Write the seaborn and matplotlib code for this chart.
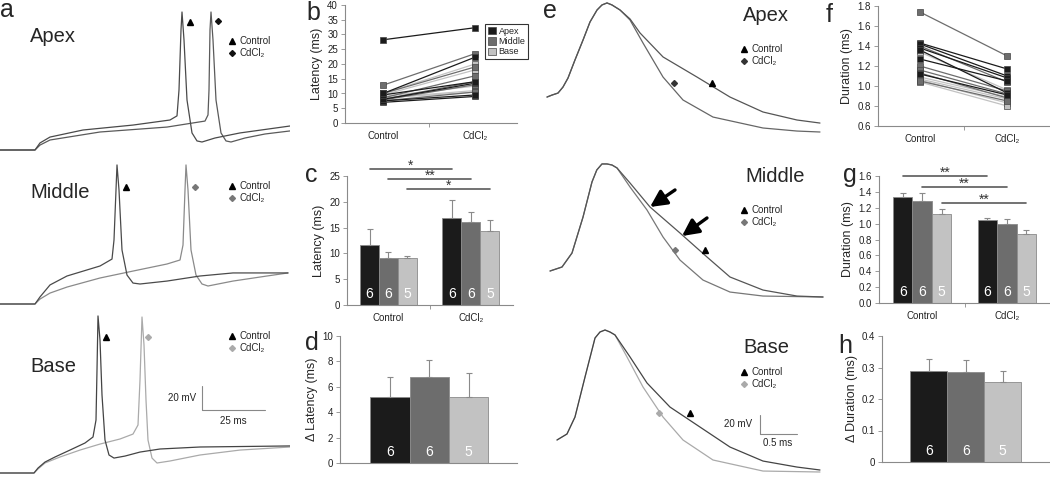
import pandas as pd
import seaborn as sns
import matplotlib.pyplot as plt
from matplotlib.lines import Line2D
from matplotlib.patches import Patch

# ---------------- datos ----------------
regions = ['Apex', 'Middle', 'Base']
conds = ['Control', 'CdCl₂']
region_colors = {'Apex': '#1b1b1b', 'Middle': '#6d6d6d', 'Base': '#c2c2c2'}
n_cells = [6, 6, 5]

# latencia por celula (ms): control -> CdCl2
lat_apex_ctrl = [28.2, 7.0, 7.5, 8.0, 9.5, 10.0]
lat_apex_cd = [32.3, 9.0, 9.5, 13.5, 14.0, 22.3]
lat_mid_ctrl = [12.8, 10.0, 8.5, 8.0, 7.8, 7.5]
lat_mid_cd = [23.5, 19.0, 16.0, 14.0, 13.0, 10.5]
lat_base_ctrl = [10.0, 9.5, 9.0, 8.5, 8.5]
lat_base_cd = [20.0, 18.0, 12.5, 11.0, 10.5]

# duracion por celula (ms)
dur_apex_ctrl = [1.43, 1.42, 1.38, 1.36, 1.27, 1.12]
dur_apex_cd = [1.17, 1.10, 1.08, 0.93, 1.05, 0.91]
dur_mid_ctrl = [1.74, 1.40, 1.20, 1.16, 1.13, 1.05]
dur_mid_cd = [1.30, 1.04, 0.95, 0.92, 0.88, 0.85]
dur_base_ctrl = [1.34, 1.09, 1.07, 1.06, 1.04]
dur_base_cd = [0.96, 0.89, 0.87, 0.83, 0.80]

# medias y error estandar
lat_ctrl_mean = [11.6, 9.1, 9.1]
lat_cd_mean = [16.8, 16.0, 14.4]
lat_ctrl_se = [3.2, 1.1, 0.3]
lat_cd_se = [3.6, 2.0, 2.0]
dlat_mean = [5.2, 6.8, 5.2]
dlat_se = [1.6, 1.3, 1.9]

dur_ctrl_mean = [1.33, 1.28, 1.12]
dur_cd_mean = [1.04, 0.99, 0.87]
dur_ctrl_se = [0.05, 0.10, 0.07]
dur_cd_se = [0.03, 0.07, 0.045]
ddur_mean = [0.29, 0.285, 0.255]
ddur_se = [0.037, 0.04, 0.033]

lat_sig_y = [26.4, 24.4, 22.5]
lat_sig_txt = ['*', '**', '*']
dur_sig_y = [1.60, 1.46, 1.26]
dur_sig_txt = ['**', '**', '**']

# trazos de potencial (ms, mV)
a_apex_ctrl_t = [0, 14, 16, 20, 33.2, 53.2, 68, 70.8, 71.6, 72.4, 72.8, 73.6, 74.8, 76.8, 78.8, 80.8, 86, 96, 116]
a_apex_ctrl_v = [-80, -80, -74, -69, -63, -58.8, -54.5, -51, -29, 22, 37.3, 13.5, -37.5, -65.5, -72.3, -73.2, -69.8, -65.5, -59.6]
a_apex_cd_t = [0, 14, 16, 20, 40, 66.8, 82, 83.2, 83.6, 84, 84.4, 85.2, 86.4, 88.4, 90.4, 92.4, 98, 106, 116]
a_apex_cd_v = [-80, -80, -75.8, -71.5, -64.7, -60.5, -55.4, -50.2, -29, 22, 37.3, 13.5, -37.5, -65.5, -72.3, -73.2, -69.8, -66.4, -63.8]
a_mid_ctrl_t = [0, 14, 16, 20, 26.8, 40, 44.8, 45.6, 46.4, 46.8, 47.6, 48.8, 50.8, 53.2, 56, 66.8, 80, 93.2, 115.2]
a_mid_ctrl_v = [-80, -80, -74, -63.8, -56.2, -47.7, -41.8, -25.6, 16.9, 38.2, 16.9, -34.1, -55.4, -62.2, -63, -60.5, -56.2, -53.6, -53.6]
a_mid_cd_t = [0, 14, 16, 20, 26.8, 40, 53.2, 66.8, 72, 73.2, 74, 74.4, 75.2, 76.4, 78.4, 80.8, 83.2, 93.2, 106.8, 115.2]
a_mid_cd_v = [-80, -80, -75.8, -70.7, -65.6, -57.9, -52, -46, -42.6, -29.9, 16.9, 38.2, 16.9, -34.1, -55.4, -63, -64.7, -60.5, -56.2, -53.6]
a_base_ctrl_t = [0, 13.6, 15.2, 18, 22, 28, 34, 37.2, 38.4, 38.8, 39.2, 40, 40.8, 42, 43.6, 45.6, 50, 56, 64, 80, 116]
a_base_ctrl_v = [-80, -80, -75.8, -70.7, -66.4, -60.5, -54.5, -49.4, -35, 7.6, 53.5, 33, -13.7, -52, -64.7, -67.3, -65.6, -62.2, -59.6, -57.9, -57]
a_base_cd_t = [0, 13.6, 15.2, 18, 24, 32, 40, 48, 53.2, 55.2, 56, 56.8, 57.6, 58.4, 59.2, 60.8, 62.8, 68, 80, 96, 116]
a_base_cd_v = [-80, -80, -76.6, -71.5, -66.4, -60.5, -55.4, -51.1, -46.9, -39.2, -1, 52.6, 28.8, -18, -52, -67.3, -71.5, -69.8, -64.7, -60.5, -57.9]

e_apex_ctrl_t = [0.027, 0.095, 0.176, 0.243, 0.311, 0.405, 0.514, 0.608, 0.703, 0.770, 0.838, 0.905, 1.014, 1.149, 1.284, 1.595, 2.054, 2.5, 2.946, 3.405, 3.716]
e_apex_ctrl_v = [-33.3, -31.2, -29.1, -22.8, -13.3, 5.6, 26.6, 45.5, 58.1, 63.4, 65.5, 63.4, 58.1, 48.7, 34.0, 8.8, -12.3, -33.3, -49.0, -57.4, -60.6]
e_apex_cd_t = [0.027, 0.095, 0.176, 0.243, 0.311, 0.405, 0.514, 0.608, 0.703, 0.770, 0.838, 0.905, 1.014, 1.149, 1.324, 1.595, 1.865, 2.27, 2.946, 3.405, 3.716]
e_apex_cd_v = [-33.3, -31.2, -29.1, -22.8, -13.3, 5.6, 26.6, 45.5, 58.1, 63.4, 65.5, 63.4, 58.1, 47.6, 23.5, -12.3, -36.4, -54.3, -65.8, -69.0, -70.0]
e_mid_ctrl_t = [0.068, 0.23, 0.365, 0.514, 0.635, 0.70, 0.77, 0.838, 0.905, 0.973, 1.149, 1.419, 1.824, 2.189, 2.5, 2.946, 3.405, 3.757]
e_mid_ctrl_v = [-42.7, -38.5, -23.8, 14.0, 50.8, 63.4, 69.7, 69.7, 68.6, 65.5, 49.7, 24.5, -2.8, -28.0, -49.0, -62.7, -69.0, -70.0]
e_mid_cd_t = [0.068, 0.23, 0.365, 0.514, 0.635, 0.70, 0.77, 0.838, 0.905, 0.973, 1.149, 1.378, 1.595, 1.824, 2.135, 2.5, 2.946, 3.757]
e_mid_cd_v = [-42.7, -38.5, -23.8, 14.0, 50.8, 63.4, 69.7, 69.7, 68.6, 65.5, 45.5, 21.4, -7.0, -31.2, -52.2, -64.8, -69.0, -70.0]
e_base_ctrl_t = [0.162, 0.297, 0.405, 0.541, 0.676, 0.743, 0.811, 0.878, 0.946, 1.149, 1.378, 1.689, 2.054, 2.5, 2.946, 3.405, 3.716]
e_base_ctrl_v = [-36.4, -30.1, -12.3, 29.8, 70.7, 77.0, 79.1, 77.0, 73.9, 50.8, 23.5, -1.8, -20.7, -43.8, -58.5, -64.8, -67.9]
e_base_cd_t = [0.162, 0.297, 0.405, 0.541, 0.676, 0.743, 0.811, 0.878, 0.946, 1.108, 1.324, 1.595, 1.865, 2.27, 2.946, 3.716]
e_base_cd_v = [-36.4, -30.1, -12.3, 29.8, 70.7, 77.0, 79.1, 77.0, 73.9, 50.8, 19.3, -12.3, -36.4, -57.4, -69.0, -70.0]

# marcadores sobre los trazos (t, v)
a_marks = [((76, 28.8), (87.2, 29.7)), ((50.4, 19.5), (78, 19.5)), ((42.4, 35.6), (59.2, 35.6))]
e_marks = [((2.257, -18.6), (1.743, -18.6)), ((2.162, -20.7), (1.757, -20.7)), ((1.959, -8.1), (1.541, -8.1))]

# ---------------- figura ----------------
sns.set_style('ticks')
plt.rcParams['font.family'] = ['Liberation Sans', 'DejaVu Sans']

W, H = 1050, 479
fig = plt.figure(figsize=(W / 100, H / 100), dpi=100)

def px_axes(left, top, right, bottom):
    return fig.add_axes([left / W, 1 - bottom / H, (right - left) / W, (bottom - top) / H])

def trace_axes(left, top, right, bottom, t0, px_ms, ref_px, v_ref, mv_px):
    ax = px_axes(left, top, right, bottom)
    ax.set_xlim(t0, t0 + (right - left) / px_ms)
    ax.set_ylim(v_ref - (bottom - ref_px) * mv_px, v_ref + (ref_px - top) * mv_px)
    ax.axis('off')
    ax.patch.set_alpha(0)
    return ax

def trace_legend(ax, x, y, cd_color):
    hs = [Line2D([], [], ls='none', marker='^', color='k', ms=4, label='Control'),
          Line2D([], [], ls='none', marker='D', color=cd_color, ms=3, label='CdCl₂')]
    ax.legend(handles=hs, loc='upper left', bbox_to_anchor=(x / W, 1 - y / H),
              bbox_transform=fig.transFigure, frameon=False, fontsize=7,
              handlelength=0.6, handletextpad=0.5, labelspacing=0.2,
              borderpad=0, borderaxespad=0)

def style_axes(ax):
    sns.despine(ax=ax)
    for s in ['left', 'bottom']:
        ax.spines[s].set_color('#8a8a8a')
        ax.spines[s].set_linewidth(0.8)
    ax.tick_params(axis='both', which='both', colors='#8a8a8a', labelcolor='#222',
                   labelsize=7, length=3, width=0.6, pad=2)
    ax.set_xlabel('')

def cat_xaxis(ax):
    ax.set_xticks([0, 1])
    ax.set_xticklabels(conds)
    ax.set_xticks([0.5], minor=True)
    ax.tick_params(axis='x', which='major', length=0, pad=6)

def sorted_bars(ax):
    return sorted(ax.patches, key=lambda p: p.get_x())

def add_errors_and_n(ax, se, ns):
    bars = sorted_bars(ax)
    xs = [p.get_x() + p.get_width() / 2 for p in bars]
    tops = [p.get_height() for p in bars]
    ax.errorbar(xs, tops, yerr=[[0] * len(se), se], fmt='none', ecolor='#8a8a8a',
                elinewidth=0.8, capsize=2, capthick=0.8)
    for x, n in zip(xs, ns):
        ax.annotate(str(n), (x, ax.get_ylim()[0]), xytext=(0, 3), textcoords='offset points',
                    ha='center', va='bottom', color='white', fontsize=10)
    return xs

def sig_lines(ax, xs, ys, txts):
    for i in range(3):
        x0, x1 = xs[i], xs[i + 3]
        ax.plot([x0, x1], [ys[i], ys[i]], color='#5a5a5a', lw=1.2, clip_on=False)
        ax.annotate(txts[i], ((x0 + x1) / 2, ys[i]), xytext=(0, -3), textcoords='offset points',
                    ha='center', va='bottom', fontsize=10, color='#333', annotation_clip=False)

def paired_df(groups):
    rows = []
    cid = 0
    for reg, (c_vals, d_vals) in groups.items():
        for c, d in zip(c_vals, d_vals):
            rows.append({'cell': cid, 'region': reg, 'pos': 0, 'value': c})
            rows.append({'cell': cid, 'region': reg, 'pos': 1, 'value': d})
            cid += 1
    return pd.DataFrame(rows)

def paired_plot(ax, df):
    sns.lineplot(data=df, x='pos', y='value', hue='region', units='cell', estimator=None,
                 hue_order=['Base', 'Middle', 'Apex'], palette=region_colors, marker='s',
                 markersize=4, markeredgecolor='#444', markeredgewidth=0.5, lw=0.9,
                 legend=False, ax=ax)

def group_bars(ax, ctrl, cd):
    df = pd.DataFrame({'cond': [conds[0]] * 3 + [conds[1]] * 3,
                       'region': regions * 2, 'value': ctrl + cd})
    sns.barplot(data=df, x='cond', y='value', hue='region', order=conds, hue_order=regions,
                palette=region_colors, width=0.69, errorbar=None, edgecolor='#8a8a8a',
                linewidth=0.6, legend=False, ax=ax)

def delta_bars(ax, vals):
    sns.barplot(x=regions, y=vals, hue=regions, palette=region_colors, width=1.0,
                errorbar=None, edgecolor='#8a8a8a', linewidth=0.6, legend=False, ax=ax)

# ---- panel a: trazos largos ----
a_rows = [(0, 160, 150), (150, 314, 304), (310, 479, 473)]
a_traces = [(a_apex_ctrl_t, a_apex_ctrl_v, a_apex_cd_t, a_apex_cd_v, '#4a4a4a', '#5a5a5a', '#111'),
            (a_mid_ctrl_t, a_mid_ctrl_v, a_mid_cd_t, a_mid_cd_v, '#4a4a4a', '#8a8a8a', '#777'),
            (a_base_ctrl_t, a_base_ctrl_v, a_base_cd_t, a_base_cd_v, '#444', '#aaaaaa', '#aaa')]
a_axes = []
for (top, bot, ref), (ct, cv, dt, dv, cc, dc, mc), mk in zip(a_rows, a_traces, a_marks):
    ax = trace_axes(0, top, 290, bot, 0, 2.5, ref, -80, 0.85)
    sns.lineplot(x=dt, y=dv, sort=False, estimator=None, color=dc, lw=0.9, ax=ax)
    sns.lineplot(x=ct, y=cv, sort=False, estimator=None, color=cc, lw=0.9, ax=ax)
    ax.plot(*mk[0], marker='^', color='k', ms=4)
    ax.plot(*mk[1], marker='D', color=mc, ms=3)
    a_axes.append(ax)
for ax, y, mc in zip(a_axes, [36, 181, 331], ['#111', '#777', '#aaa']):
    trace_legend(ax, 229, y, mc)

ax = a_axes[2]
ax.plot([80.8, 80.8, 105.8], [-6.4, -26.4, -26.4], color='#888', lw=0.8)
ax.text(78.4, -16.4, '20 mV', ha='right', va='center', fontsize=7, color='#222')
ax.text(93.3, -35.7, '25 ms', ha='center', va='center', fontsize=7, color='#222')

# ---- panel e: potenciales de accion ----
e_rows = [(0, 150, 132), (150, 310, 297), (310, 479, 472)]
e_traces = [(e_apex_ctrl_t, e_apex_ctrl_v, e_apex_cd_t, e_apex_cd_v, '#555', '#666', '#333'),
            (e_mid_ctrl_t, e_mid_ctrl_v, e_mid_cd_t, e_mid_cd_v, '#555', '#777', '#777'),
            (e_base_ctrl_t, e_base_ctrl_v, e_base_cd_t, e_base_cd_v, '#444', '#aaaaaa', '#aaa')]
e_axes = []
for (top, bot, ref), (ct, cv, dt, dv, cc, dc, mc), mk in zip(e_rows, e_traces, e_marks):
    ax = trace_axes(540, top, 830, bot, -5 / 74, 74, ref, -70, 1.05)
    sns.lineplot(x=dt, y=dv, sort=False, estimator=None, color=dc, lw=0.9, ax=ax)
    sns.lineplot(x=ct, y=cv, sort=False, estimator=None, color=cc, lw=0.9, ax=ax)
    ax.plot(*mk[0], marker='^', color='k', ms=4)
    ax.plot(*mk[1], marker='D', color=mc, ms=3)
    e_axes.append(ax)
for ax, y, mc in zip(e_axes, [44, 205, 367], ['#333', '#777', '#aaa']):
    trace_legend(ax, 741, y, mc)

ax = e_axes[1]
for tail, head in [((1.757, 42.4), (1.419, 24.5)), ((2.189, 13.0), (1.851, -6.0))]:
    ax.annotate('', xy=head, xytext=tail,
                arrowprops=dict(arrowstyle='-|>,head_width=0.5,head_length=1.0',
                                color='k', lw=2.4, shrinkA=0, shrinkB=0))
ax = e_axes[2]
ax.plot([2.905, 2.905, 3.405], [-10.1, -30.1, -30.1], color='#888', lw=0.8)
ax.text(2.797, -19.6, '20 mV', ha='right', va='center', fontsize=7, color='#222')
ax.text(3.149, -39.6, '0.5 ms', ha='center', va='center', fontsize=7, color='#222')

# ---- panel b ----
ax_b = px_axes(345, 5, 517, 123)
paired_plot(ax_b, paired_df({'Apex': (lat_apex_ctrl, lat_apex_cd),
                             'Middle': (lat_mid_ctrl, lat_mid_cd),
                             'Base': (lat_base_ctrl, lat_base_cd)}))
style_axes(ax_b)
ax_b.set_ylim(0, 40)
ax_b.set_yticks(range(0, 41, 5))
cat_xaxis(ax_b)
ax_b.set_xlim(-0.413, 1.457)
ax_b.set_ylabel('Latency (ms)', fontsize=9, labelpad=3)
hs = [Patch(facecolor=region_colors[r], edgecolor='#444', lw=0.5, label=r) for r in regions]
leg = ax_b.legend(handles=hs, loc='upper left', bbox_to_anchor=(485 / W, 1 - 24 / H),
                  bbox_transform=fig.transFigure, fontsize=6.5, frameon=True, fancybox=False,
                  edgecolor='k', borderpad=0.3, handlelength=0.9, handleheight=0.9,
                  handletextpad=0.3, labelspacing=0.15, borderaxespad=0)
leg.get_frame().set_linewidth(0.8)

# ---- panel c ----
ax_c = px_axes(347, 176, 513, 305)
group_bars(ax_c, lat_ctrl_mean, lat_cd_mean)
style_axes(ax_c)
ax_c.set_ylim(0, 25)
ax_c.set_yticks(range(0, 26, 5))
cat_xaxis(ax_c)
ax_c.set_xlim(-0.503, 1.51)
xs = add_errors_and_n(ax_c, lat_ctrl_se + lat_cd_se, n_cells * 2)
sig_lines(ax_c, xs, lat_sig_y, lat_sig_txt)
ax_c.set_ylabel('Latency (ms)', fontsize=9, labelpad=3)

# ---- panel d ----
ax_d = px_axes(340, 336, 517, 463)
delta_bars(ax_d, dlat_mean)
style_axes(ax_d)
ax_d.set_ylim(0, 10)
ax_d.set_yticks(range(0, 11, 2))
ax_d.set_xticks([])
ax_d.set_xlim(-1.27, 3.23)
add_errors_and_n(ax_d, dlat_se, n_cells)
ax_d.set_ylabel('Δ Latency (ms)', fontsize=9, labelpad=3)

# ---- panel f ----
ax_f = px_axes(878, 6, 1050, 126)
paired_plot(ax_f, paired_df({'Apex': (dur_apex_ctrl, dur_apex_cd),
                             'Middle': (dur_mid_ctrl, dur_mid_cd),
                             'Base': (dur_base_ctrl, dur_base_cd)}))
style_axes(ax_f)
ax_f.set_ylim(0.6, 1.8)
ax_f.set_yticks([0.6, 0.8, 1.0, 1.2, 1.4, 1.6, 1.8])
ax_f.set_yticklabels([f'{v:.1f}' for v in ax_f.get_yticks()])
cat_xaxis(ax_f)
ax_f.set_xlim(-0.48, 1.49)
ax_f.set_ylabel('Duration (ms)', fontsize=9, labelpad=3)

# ---- panel g ----
ax_g = px_axes(879, 176, 1050, 303)
group_bars(ax_g, dur_ctrl_mean, dur_cd_mean)
style_axes(ax_g)
ax_g.set_ylim(0, 1.6)
ax_g.set_yticks([0, 0.2, 0.4, 0.6, 0.8, 1.0, 1.2, 1.4, 1.6])
ax_g.set_yticklabels([f'{v:.1f}' for v in ax_g.get_yticks()])
cat_xaxis(ax_g)
ax_g.set_xlim(-0.51, 1.51)
xs = add_errors_and_n(ax_g, dur_ctrl_se + dur_cd_se, n_cells * 2)
sig_lines(ax_g, xs, dur_sig_y, dur_sig_txt)
ax_g.set_ylabel('Duration (ms)', fontsize=9, labelpad=3)

# ---- panel h ----
ax_h = px_axes(882, 336, 1050, 462)
delta_bars(ax_h, ddur_mean)
style_axes(ax_h)
ax_h.set_ylim(0, 0.4)
ax_h.set_yticks([0, 0.1, 0.2, 0.3, 0.4])
ax_h.set_yticklabels(['0', '0.1', '0.2', '0.3', '0.4'])
ax_h.set_xticks([])
ax_h.set_xlim(-1.26, 3.28)
add_errors_and_n(ax_h, ddur_se, n_cells)
ax_h.set_ylabel('Δ Duration (ms)', fontsize=9, labelpad=3)

# ---- letras y rotulos ----
for letter, x, y in [('a', 0, 17), ('b', 306, 20), ('c', 305, 182), ('d', 305, 350),
                     ('e', 543, 18), ('f', 826, 22), ('g', 843, 182), ('h', 838, 353)]:
    fig.text(x / W, 1 - y / H, letter, fontsize=18, va='baseline', ha='left')
for name, x, y in [('Apex', 30, 42), ('Middle', 30, 198), ('Base', 30, 372),
                   ('Apex', 743, 21), ('Middle', 745, 182), ('Base', 743, 353)]:
    fig.text(x / W, 1 - y / H, name, fontsize=14.5, va='baseline', ha='left')

fig.savefig('out.png', dpi=100)
